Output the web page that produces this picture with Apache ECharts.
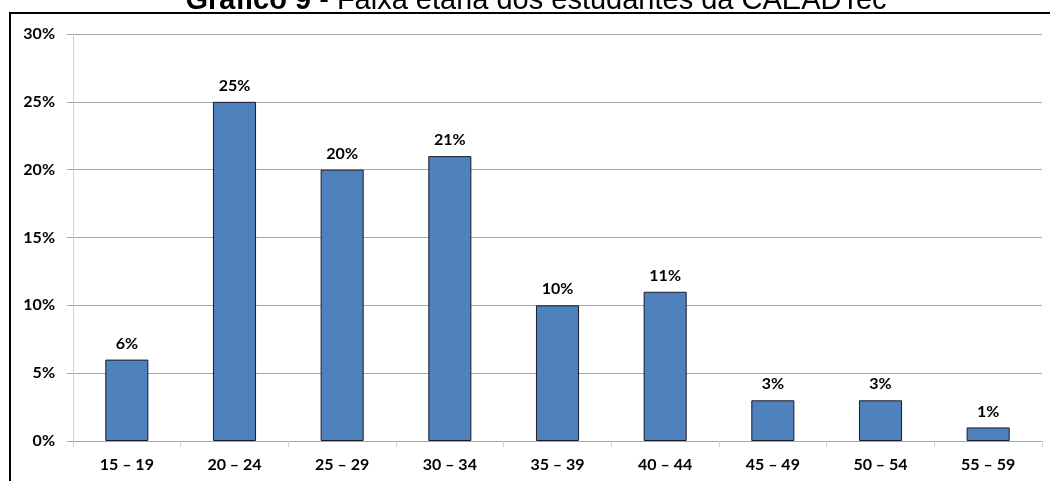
<!DOCTYPE html>
<html>
<head>
<meta charset="utf-8">
<script src="https://cdn.jsdelivr.net/npm/echarts@6/dist/echarts.min.js"></script>
<style>
  html, body { margin: 0; padding: 0; background: #fff; }
  #chart { width: 1050px; height: 481px; }
</style>
</head>
<body>
<div id="chart"></div>
<script>
// faixas etárias e percentuais
const faixas = ['15 – 19', '20 – 24', '25 – 29', '30 – 34', '35 – 39', '40 – 44', '45 – 49', '50 – 54', '55 – 59'];
const percentuais = [6, 25, 20, 21, 10, 11, 3, 3, 1];
const tituloNegrito = 'Gráfico 9';
const tituloResto = ' - Faixa etária dos estudantes da CAEADTec';

const labelFont = 'Lato, "Open Sans", sans-serif';

const chart = echarts.init(document.getElementById('chart'), null, { renderer: 'canvas' });

chart.setOption({
    backgroundColor: '#fff',
    animation: false,
    grid: {
        left: 73,
        right: 8,
        top: 34,
        bottom: 40
    },
    graphic: [
        {
            type: 'text',
            x: 536,
            y: 1,
            style: {
                text: '{b|' + tituloNegrito + '}{r|' + tituloResto + '}',
                align: 'center',
                verticalAlign: 'middle',
                rich: {
                    b: { font: 'bold 29px "Liberation Sans", Arial, sans-serif', fill: '#000', lineHeight: 30 },
                    r: { font: '29px "Liberation Sans", Arial, sans-serif', fill: '#000', lineHeight: 30 }
                }
            }
        },
        // moldura
        {
            type: 'line',
            shape: { x1: 9, y1: 13, x2: 1050, y2: 13 },
            style: { stroke: '#000', lineWidth: 2 }
        },
        {
            type: 'line',
            shape: { x1: 10, y1: 12, x2: 10, y2: 481 },
            style: { stroke: '#000', lineWidth: 2 }
        }
    ],
    xAxis: {
        type: 'category',
        data: faixas,
        axisLine: { lineStyle: { color: '#a6a6a6', width: 1 } },
        axisTick: { show: true, length: 6, lineStyle: { color: '#d0d0d0' } },
        axisLabel: {
            margin: 16,
            color: '#000',
            fontFamily: labelFont,
            fontWeight: 'bold',
            fontSize: 16
        }
    },
    yAxis: {
        type: 'value',
        min: 0,
        max: 30,
        interval: 5,
        axisLine: { show: true, lineStyle: { color: '#d0d0d0' } },
        axisTick: { show: true, length: 6, lineStyle: { color: '#a6a6a6' } },
        splitLine: { lineStyle: { color: '#a6a6a6', width: 1 } },
        axisLabel: {
            margin: 18,
            color: '#000',
            fontFamily: labelFont,
            fontWeight: 'bold',
            fontSize: 16,
            formatter: '{value}%'
        }
    },
    series: [{
        type: 'bar',
        data: percentuais,
        barWidth: '40%',
        itemStyle: {
            color: '#4f81bd',
            borderColor: '#1a1a2a',
            borderWidth: 1
        },
        label: {
            show: true,
            position: 'top',
            distance: 8,
            color: '#000',
            fontFamily: labelFont,
            fontWeight: 'bold',
            fontSize: 16,
            formatter: '{c}%'
        }
    }]
});
</script>
</body>
</html>
